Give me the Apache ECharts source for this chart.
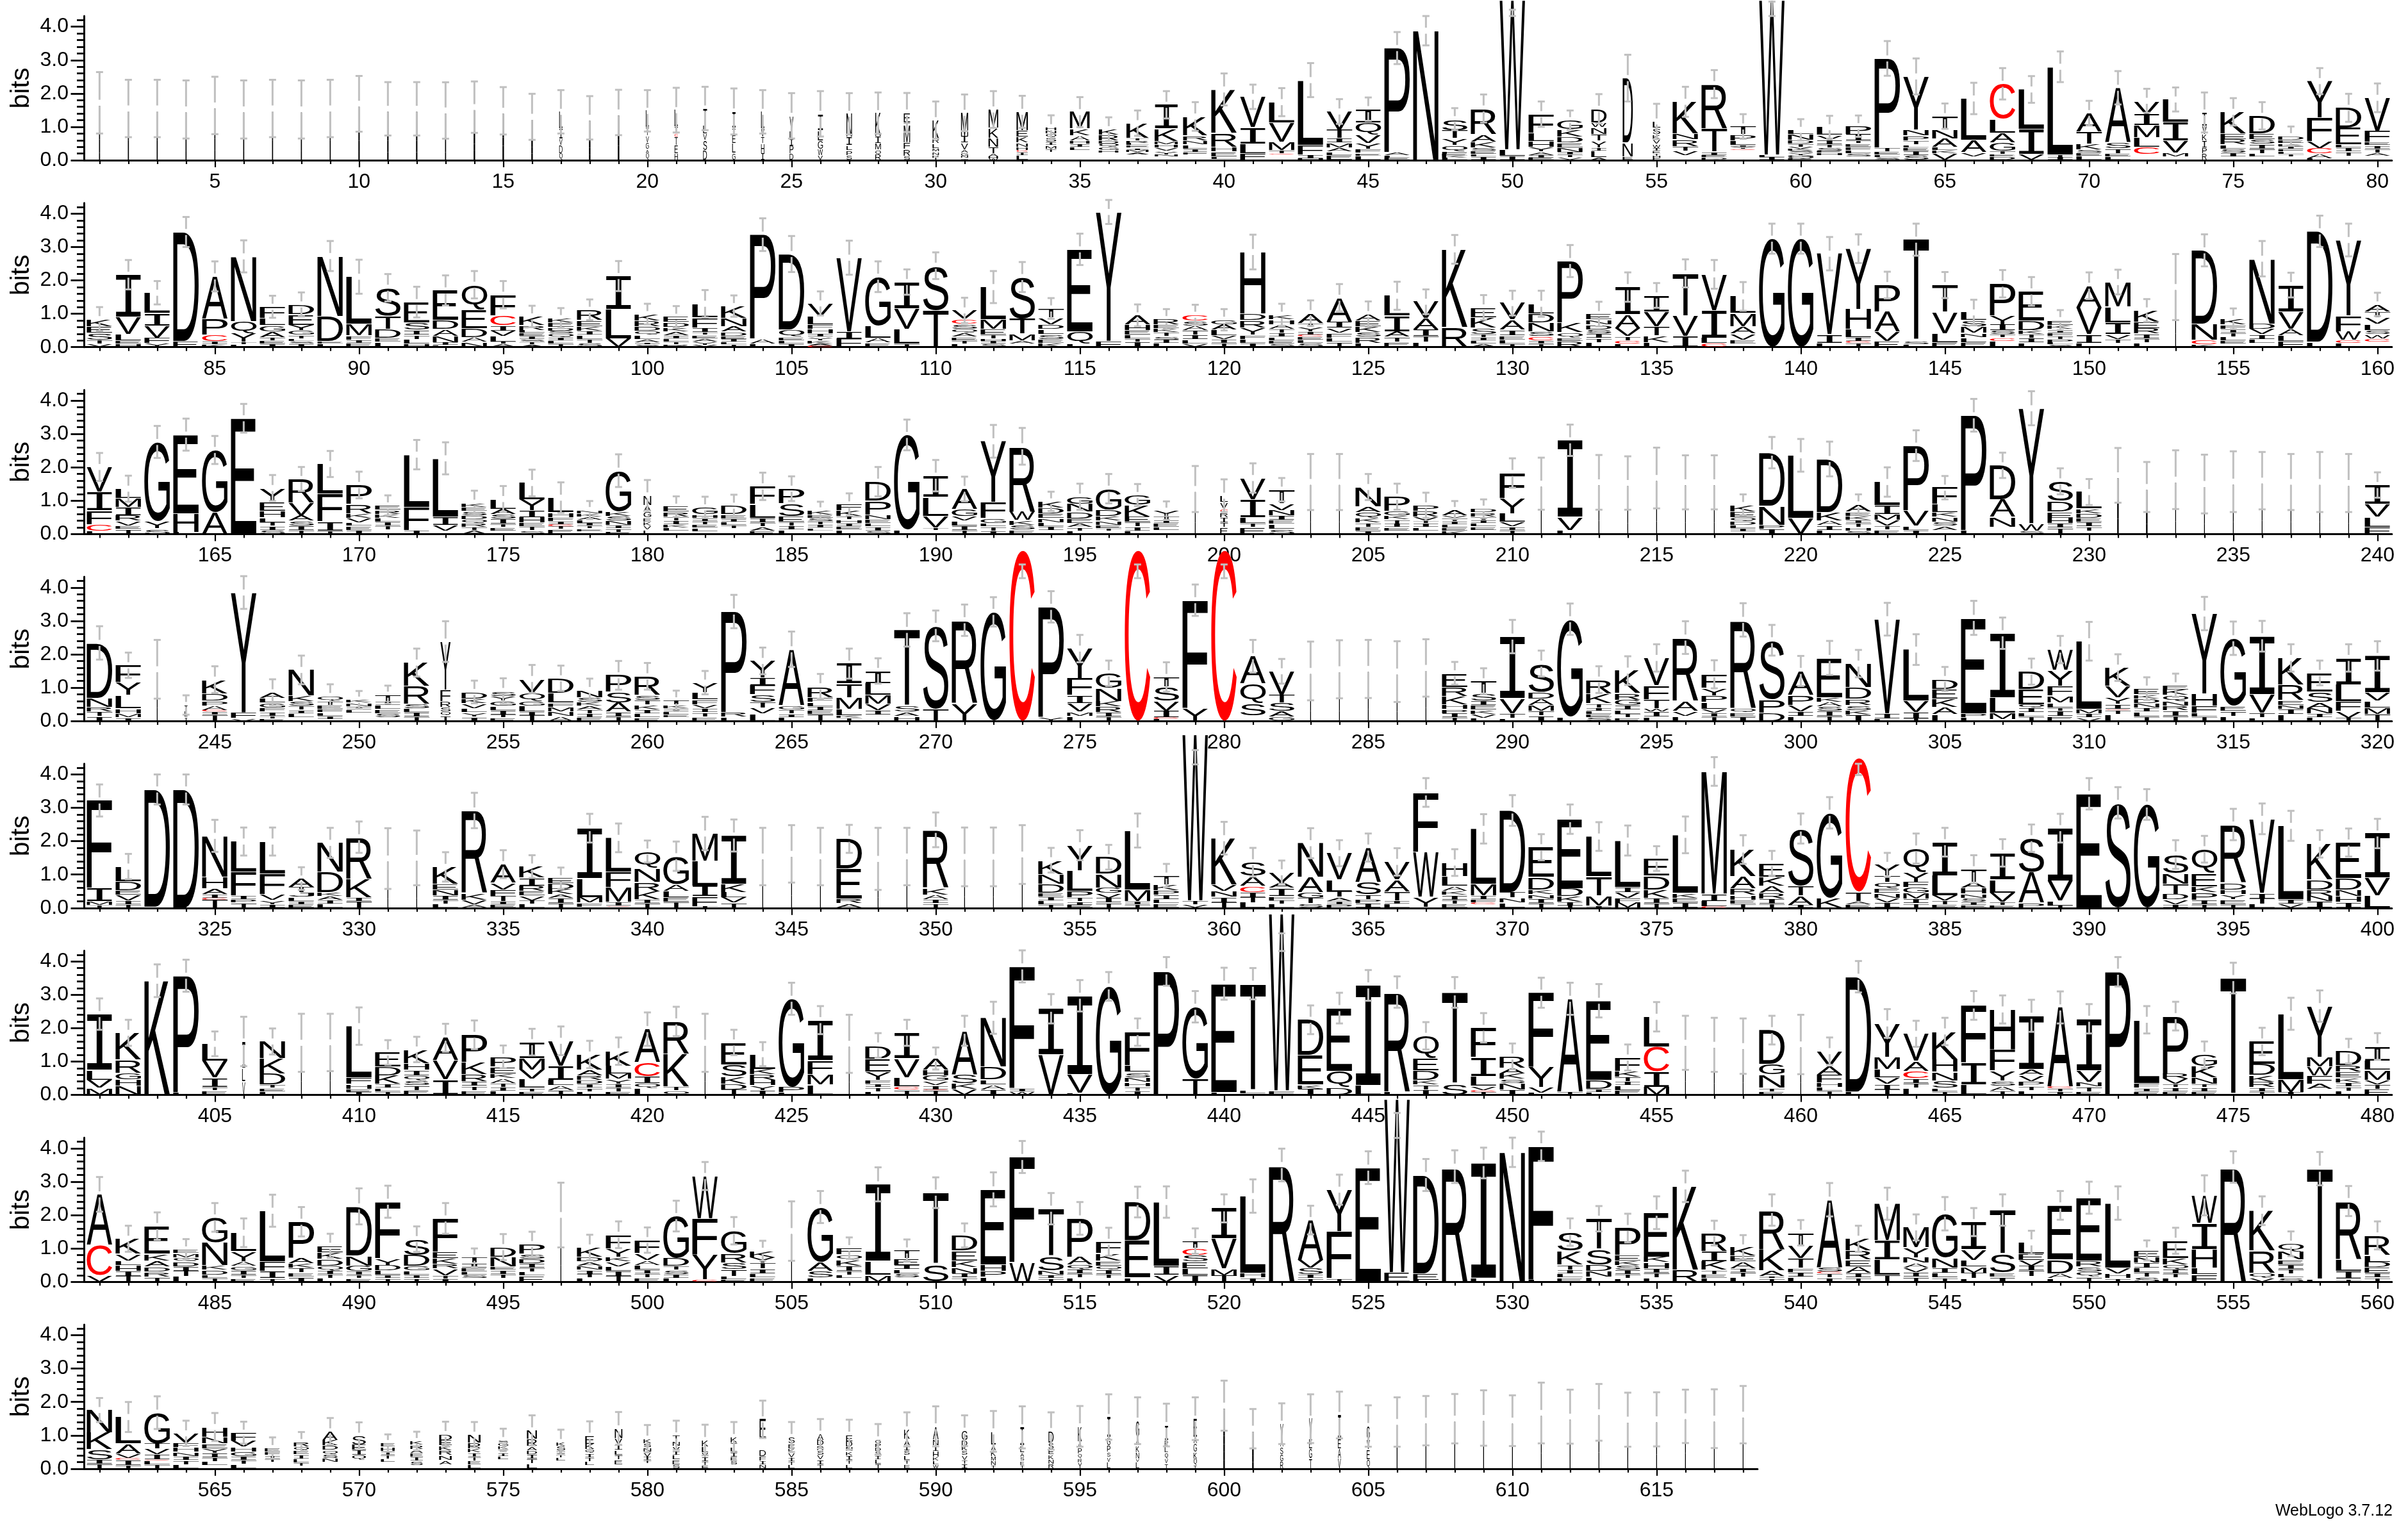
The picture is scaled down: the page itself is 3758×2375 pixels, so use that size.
<!DOCTYPE html>
<html><head><meta charset="utf-8">
<style>html,body{margin:0;padding:0;background:#fff}#c{width:3758px;height:2375px}</style>
<script src="https://cdn.jsdelivr.net/npm/echarts@6/dist/echarts.min.js"></script>
</head><body><div id="c"></div>
<script>
// Each string is one sequence position: letters from the top of the stack downwards with height in bits. "_" = empty space.
const row1Stacks = [
"L.6I.5V.4A.22","L.55V.4I.35A.25","I.55L.4V.35T.25","L.5I.4V.35S.27","L.6V.4I.35K.29","V.5L.4I.35E.27","L.55I.4A.35V.25","I.5V.4L.35T.27","L.55V.4T.35I.25","L.6I.5V.34A.25",
"V.55L.4I.35K.24","L.55I.4S.35V.24","I.5L.4V.35E.24","L.5I.4V.2D.2S.29","I.5L.3V.25A.2Q.23","V.4I.3K.2E.2L.2","L.5I.3V.2D.25Q.2","T.4V.3H.2S.2D.17","I.5L.3E.2K.2D.23","L.5T.25V.2G.2A.13Q.2",
"L.5I.2C.1T.25E.25H.2","T.5L.25V.2S.3D.3","I.5T.2E.25L.3G.21","L.5V.25T.2H.3I.2","V.45L.25I.2P.23D.2","I.5L.3G.25W.2V.14","N.7I.25L.15P.15S.14","K.7I.2M.2Q.15R.16","E.3T.1M.5F.2R.2S.13","K.55R.15L.15M.1N.1P.08T.07",
"M.7I.2V.2A.1G.1N.06Q.06","M.55K.3N.27T.2A.1H.06W.04","M.55E.2K.17N.13H.1C.05I.1L.15","H.1N.1Q.1S.15I.1M.1T.1_.24","M.5K.2A.15H.1I.1L.1_.29","K.18R.16D.1Q.1G.1H.07_.22","K.45T.08R.07L.07E.07I.07M.07A.07_.16","I.72K.37M.1H.1V.1Y.1N.05_.12","K.57R.15N.13L.12I.1F.08_.16","K1.3R.42H.15E.14L.08_.03",
"V.92I.5L.28F.2","L.62V.58M.25T.1C.02_.17","L1.95F.28I.12H.05","V.55T.26I.13M.15A.12L.1E.15","I.4Q.38V.25Y.17F.12E.08L.13","P3.12A.1L.08E.06","N3.88","S.34T.24Y.2Q.18F.08E.07K.06L.06","R.78A.22K.18S.09E.1L.08I.1","W4.48L.2I.12",
"F.57L.24H.18Y.14A.1I.08E.07","G.28K.22D.18E.14N.14I.08T.08V.08","D.42W.14N.2T.2Y.2I.1L.2A.08","D1.94N.42E.1","L.2S.18K.15V.14W.13I.08E.08T.08H.06F.06","K.95N.18R.2T.14V.14_.14","R1.34T.7I.1E.06D.08","T.24P.18L.14I.06Y.06C.03_.3","W4.64L.08I.08","L.14N.16D.12T.1V.06K.06S.06Y.06G.05Q.05E.05",
"L.24V.14I.14T.1S.1E.06H.06_.15","P.24I.2T.08E.1F.1L.1S.1_.1","P2.67T.12E.1L.08S.08","Y1.6N.17P.15T.13L.08E.1I.14S.14","T.4N.27A.26L.1K.09V.2","L1.25A.37V.13_.1","C1.05L.42A.3G.25T.1E.07D.1","L1.2I.74V.18","L2.64T.08I.08","A.55T.38K.16S.1E.1L.12",
"A1.65S.17T.15E.1L.1","V.4I.34M.36L.28C.22_.18","L.68I.55V.37M.12_.1","I.4V.25K.2I.2P.18R.2","K.65E.18R.16L.12S.12I.12_.1","D.53E.18S.14I.14T.14L.1_.1","D.12E.1K.08I.08F.08L.08T.08_.1","Y1.1F.7V.22C.16A.14L.05","D.6E.5L.1I.12T.12_.13","V1.0F.33E.1I.1T.12A.1_.12"];
const row1Err = [.92,.86,.86,.87,.86,.87,.86,.87,.86,.835,.8,.8,.845,.77,.71,.69,.65,.65,.68,.62,.67,.65,.69,.65,.68,.68,.62,.62,.585,.56,.55,.55,.48,.355,.45,.355,.38,.41,.43,.48,.365,.42,.51,.37,.35,.48,.44,.33,.42,.5,.38,.29,.44,.7,.53,.45,.42,.37,.5,.32,.34,.32,.52,.54,.38,.47,.47,.4,.46,.37,.5,.36,.36,.6,.41,.41,.29,.39,.42,.43];

const row2Stacks = [
"K.22E.2S.2T.12V.1","I1.26V.52L.2E.1H.09","L.62I.38V.36F.16Y.11","D3.28E.17","A1.27P.48C.2I.1K.07","N1.95Q.36Y.26T.08L.07","F.34L.22G.18A.18T.1E.1I.09","D.3E.32Y.16G.14T.1L.08S.08I.1","N1.8D.75E.08L.1","L1.42M.35F.12I.1E.12",
"S.85T.4D.26E.12L.15","E.62S.22I.14T.13L.14H.1","E.9D.27A.2N.2I.08L.05","Q.76E.55D.27A.14N.15","F.62C.3I.16V.16L.17T.06A.1","K.27R.14L.09E.09I.09S.08T.08A.08","K.14E.14D.1S.09Q.1I.1L.1T.1","R.32E.18K.14I.12L.12T.12S.12","I1.0L.87V.26","K.2R.17D.14Q.12L.12A.1I.07S.07",
"E.16D.15K.13A.12I.1L.09T.08R.08","L.42F.3I.14T.08E.1A.1Y.1V.06","K.37N.24A.16D.13E.1I.08L.07T.08","P3.12A.15L.1","D2.27Q.22E.1L.1I.1","V.38L.25F.14H.14I.1Y.1K.1A.06C.04","V2.22I.2F.26","G1.47L.37A.14E.13","I.8V.62L.43T.1","S1.34T1.1",
"V.26C.14S.16Q.12A.12E.1T.1L.1","L.98M.29E.16T.12H.08I.08S.09","S1.25T.46M.2A.1_.09","T.28V.2D.15L.15S.14E.12K.12","E2.46Q.37L.1","Y3.87F.18","A.28H.16E.14L.12T.1I.15","R.16E.12K.12T.11S.11I.11L.11","C.18S.15A.14T.14I.13L.13V.1","G.14A.16L.17V.12I.12T.11",
"H1.85D.2R.22Y.22F.12L.12I.12","K.15H.14A.14T.12I.12L.1E.1S.1","A.3T.12Y.14I.1C.04E.1L.1S.12","A.72I.18V.15F.15L.13T.15","A.2E.18K.16S.15R.18L.12","L.6I.47A.17T.15E.15","V.5A.34I.2T.17L.15","K2.33R.6","E.3K.32S.18T.1I.1L.09A.1","V.5A.3I.17E.13L.12T.1",
"L.3D.27N.27S.14C.12I.1T.1","P1.85K.29Q.16E.1R.18","E.17N.15D.15S.12I.13T.13L.14","I.82A.42V.23T.13C.1L.1","I.5V.43T.28K.2L.14","T1.28V.6I.33","V1.08I.82L.16C.12","L.5M.4A.22V.18E.12_.1","G3.25","G3.25",
"V2.42I.26L.12","Y1.82H.6L.24I.12C.06T.11","P.8A.6V.28E.18","T3.04S.1L.08","T.82V.63L.27E.14","L.24S.18M.2N.13L.15E.14","P.96Y.26I.18S.12T.1C.1L.18","E.88D.28K.12T.13I.13L.13","E.15K.13I.1F.1T.09P.1L.07S.07","A.66V.8I.26L.12",
"M.74L.47I.35V.15T.12_.12","K.34E.2R.16I.14T.13L.13","L.9I.5V.4","D2.2N.48C.14K.08","K.18F.13I.12T.11L.11E.1_.1","N1.95D.16V.16I.14L.12_.12","I.8V.52A.2L.17F.17","D3.32L.15","Y2.27F.47W.26C.1L.11","A.22T.17V.2L.18S.13W.13C.09_.16"];
const row2Err = [.36,.44,.35,.45,.45,.48,.33,.36,.45,.51,.41,.46,.45,.41,.41,.32,.3,.31,.45,.31,.32,.41,.32,.49,.54,.36,.51,.46,.38,.4,.38,.48,.45,.31,.47,.36,.33,.3,.3,.32,.52,.33,.38,.41,.38,.42,.37,.43,.37,.37,.39,.48,.37,.44,.37,.42,.43,.43,.45,.45,.5,.43,.4,.48,.39,.38,.41,.43,.3,.4,.37,.34,.99,.48,.31,.53,.37,.47,.49,.35];

const row3Stacks = [
"V.75I.55F.42C.2L.09","L.28M.27I.25R.17V.14E.1T.15","G2.38Y.22S.16","E2.36H.56L.06","G1.87A.65","E3.47","Y.42E.27H.2L.14T.11I.12S.12","R.72V.38A.16S.14I.13T.12","L.9F.82I.28T.1","P.58R.27K.14V.14L.1E.12I.12",
"E.14R.13K.11L.12I.12T.12_.12","L1.58F.68I.12","L1.75I.26V.16_.1","K.13E.13S.12D.12Q.12R.11T.1A.11","L.3A.16S.14I.15T.1E.1_.1","L.5Y.33I.2H.16E.12T.11S.11","L.45H.14F.12I.1C.04T.1E.14","N.1K.1A.1L.09I.09T.08E.08_.08","G1.22K.14S.14N.14I.1T.1E.06","N.3A.2G.16E.13K.12V.12L.13",
"E.16R.14T.12I.11K.1L.1_.09","G.22H.1I.1T.1E.1L.1_.08","D.26E.13I.1L.1T.1_.16","F.54L.41I.14T.12A.12E.1","P.45S.38E.16T.12I.12L.13","K.14E.1S.1T.09I.1L.08_.1","F.19K.17T.1H.1I.1E.1L.13","D.58P.41N.14E.12L.1I.12S.1","G2.85L.12","I.64L.57V.35T.07_.12",
"A.6G.22V.14L.14I.13T.12","Y1.83F.48G.14L.1T.13I.1","R1.96W.26K.14S.14E.13","K.2D.17E.14N.12L.12I.12_.11","G.22N.24D.2E.14A.12T.1L.1","G.64D.19K.14N.12E.1T.07_.1","G.3K.35E.16T.14I.12L.1","Y.16T.12I.1E.11L.1_.11","L.6I.4V.35","L.2V.2C.1R.15I.15T.15E.2",
"V.64I.54L.18T.12E.2","T.42V.2N.16I.13E.12L.15S.15","L.8I.4V.36","L.8V.4I.36","N.58A.18Q.17K.14T.13E.11I.1","P.43G.14K.12T.12I.11E.1_.1","P.18R.16V.12T.08I.12L.1_.1","A.16V.08T.1I.1L.09E.1K.09","D.12R.12T.1I.1L.1E.1_.12","F.75Y.46L.26V.14I.1T.12",
"L.7I.4V.41","I2.3V.4L.11","L.7V.45I.4","L.8I.4A.33","I.8L.5V.38","L.8V.4I.35","V.8L.4T.35","K.2E.17Q.12D.12L.1I.08_.08","D1.6N.57P.12I.15","L1.88V.48",
"D1.6K.25A.14I.14L.12","A.22E.13K.12I.1T.12H.1S.1","L.7I.27M.17V.17T.12E.13","P1.95V.46L.12I.12","F.5L.24K.14N.14S.13A.12_.12","P3.45L.11","D1.02A.53N.3_.21","Y3.45W.22S.1","S.6D.32E.18H.16I.14T.18","L.5K.14D.14E.12I.14T.12_.1",
"L.8I.5V.46","L.7V.4I.31","L.8I.45V.38","I.8V.4L.3","L.8V.4I.37","V.8I.4L.4","L.8A.4I.36","I.8L.4T.36","V.8I.4L.33","I.58V.38L.3F.21"];
const row3Err = [.42,.39,.48,.48,.42,.43,.39,.36,.39,.4,.3,.44,.48,.36,.39,.4,.46,.27,.49,.46,.31,.32,.33,.41,.37,.26,.33,.44,.46,.47,.37,.49,.55,.29,.39,.44,.33,.28,.69,.49,.44,.35,.84,.84,.39,.39,.38,.27,.28,.44,.78,.47,.82,.8,.91,.81,.81,.32,.47,.49,.52,.3,.44,.46,.35,.49,.38,.51,.39,.39,.82,.75,.88,.88,.91,.86,.84,.9,.87,.38];

const row4Stacks = [
"D1.65N.27R.14T.14I.14","F.5Y.4L.4H.14M.13I.1","L.7I.45V.4","T.2L.16I.12","K.42D.22P.14A.14C.04I.1T.18","Y3.6F.17V.08","A.17L.15G.14F.13I.12T.08E.07","N.78K.16S.14T.12I.1L.13_.1","Q.15T.13E.12F.1L.1I.1_.05","K.1N.1I.1L.1_.24",
"T.2I.12L.12E.12S.12_.11","K.7R.54S.14L.12I.13T.12","Y1.45F.35R.17S.14Q.1I.17","D.2K.15V.14L.13Y.13I.12","S.16Y.14G.15L.13I.13T.09E.1","V.42Q.25G.15L.16I.12T.16","D.45L.28F.13M.14N.14A.14","N.22S.14K.12A.12T.11I.11E.11","P.5S.32A.28I.14T.13","R.56S.16T.14K.14I.12L.12E.1",
"T.14K.1I.1L.1E.08_.1","Y.29L.22F.15V.12I.12T.13E.12","P3.02R.14L.12","Y.5I.23F.28S.22T.17V.18L.22","A1.68G.13T.13I.1L.11","R.33F.14L.13I.12E.12T.2","I.6T.42M.34L.2K.08T.08","I.37L.36M.26V.2I.13_.18","T2.28S.18A.13H.14","S2.5T.35",
"R2.5Y.52","G3.27","C5.12","P3.3Y.12","Y.9F.5I.24V.25M.13L.15","G.44N.4K.16R.17I.13T.13","C5.12","T.3S.42V.3I.2C.04L.06","F3.22Y.4","C5.12",
"A.82Q.6S.36_.16","V.71T.24S.24A.18G.12","L.8V.4I.3","I.8L.45V.3","L.8I.4A.36","V.8L.4I.28","L.8T.4V.39","E.42R.28K.24H.14P.12I.13T.1","T.36S.22I.14E.14K.12V.12L.09","I1.85V.45T.15L.08",
"S.85D.2A.2M.17T.14I.16","G2.92L.13","R.42K.3T.12I.1L.1E.1S.1","K.68R.2G.16I.14L.12T.11E.1","V.82F.42T.28W.1I.15L.12","R1.9A.3V.15L.15","F.42Y.22P.2L.2V.12I.12T.12","R2.65Q.12E.13I.13","S1.78P.4D.24","A.72P.3V.2I.14L.14",
"E1.18K.14A.14S.14I.15T.14","N.72D.34R.18S.16K.14I.18","V2.82I.16L.07","L1.54V.35I.18T.07","D.3E.3K.24A.22L.2","E2.86P.12L.11","I1.92L.47M.2_.04","D.53E.46Q.1I.13L.13T.13","W.62Y.47F.3M.2L.15T.1I.15E.15","L2.03M.14I.12V.1",
"K.56V.34Y.2I.14C.03T.13L.2","E.17K.13D.14N.14I.12L.14T.13","E.14K.16Q.17N.15R.14I.16T.15","Y2.4H.36F.22L.12T.12","G2.03E.15T.15L.15","I1.75V.55T.14L.1","K.8R.47E.14N.13I.15L.2","E.57S.31A.18N.16I.11L.11","I.8L.5F.3V.2T.09","I1.1V.25L.2M.2T.2"];
const row4Err = [.5,.38,.88,.29,.4,.49,.39,.43,.35,.26,.27,.42,.61,.34,.38,.42,.38,.34,.43,.4,.29,.35,.5,.4,.53,.37,.45,.38,.5,.46,.47,.44,.42,.47,.41,.38,.42,.44,.47,.42,.49,.37,.88,.87,.87,.91,.86,.34,.39,.5,.39,.47,.4,.43,.41,.49,.42,.5,.46,.45,.51,.41,.49,.46,.36,.51,.47,.39,.41,.58,.4,.34,.35,.5,.5,.46,.41,.37,.41,.44];

const row5Stacks = [
"F2.62I.4M.12T.08","L.44D.27E.15V.16I.12T.1","D3.52T.03","D3.55","N1.23H.35A.17I.12C.04T.25","L.92F.7I.12P.1T.15","L.96F.62V.18Y.13I.1","A.26T.16J.14L.12I.1E.1","N.88D.6K.12A.12I.12L.11","R1.25K.55I.12T.2",
"L.8V.4I.28","I.8L.4V.3","K.52E.16N.18I.13T.12L.12","R2.48K.2V.14A.1","A.56V.2F.2T.16I.09E.1","K.34I.24R.16E.14V.14T.11L.11","E.16D.16K.16A.12I.15T.14","I1.5L.57M.17F.12T.03","L1.02F.47M.43I.12C.03T.03","Q.5N.42R.28K.23I.12T.14",
"G.84A.2L.2E.14T.17","M.82L.75I.32F.3T.04","I1.45K.25L.16V.16T.15","L.8V.4I.34","I.8L.45V.37","V.8L.4I.34","D.9E.9R.14A.13","L.7I.45V.32","I.8V.4L.34","R1.75K.2A.14I.12T.13",
"L.8V.4I.33","I.8L.4V.33","V.8L.4I.4","K.42N.3D.26E.12I.12L.11T.1","Y.77L.6P.2T.12I.1E.09","D.5N.42G.16V.14I.15T.15","L1.78M.34I.1T.1","T.28K.16P.14I.13L.13E.13","W4.98T.12V.1","K1.39V.2N.17I.17T.16",
"S.42A.3C.18I.15T.16L.16","V.31A.17I.24F.13T.11L.11","N1.02A.46G.17T.16S.13","V.8L.35T.17A.12I.1P.1","A1.03S.38T.14P.13I.13","V.54A.35T.28I.1L.11","F1.78W1.35Y.3I.03","H.42L.28A.15K.13I.14T.12E.12","L1.66M.34I.12F.1C.04_.11","D2.45T.17N.15L.15",
"E.9D.37K.15N.12I.14T.14","E2.08D.24K.16I.12T.06","L1.2T.57M.3I.07","L1.4I.15V.17F.14M.16","E.52D.42K.25I.15T.14","L1.75K.14E.15I.15","M3.67I.22L.16C.04","K.8A.37R.2H.14E.12T.12","E.42K.26A.22R.17I.15T.12","S1.72T.3A.27I.09",
"G2.56K.29","C4.02T.28A.1E.1","Y.33T.2Q.17E.15N.15V.14I.15","Q.72Y.28F.17G.17M.17I.14T.13","I1.0L.6V.16T.11E.1","T.4A.16H.17N.13S.12I.1E.08","I.8L.4V.28T.1E.07","S1.02A.92P.15","I1.58V.6L.14T.07","E3.42",
"S3.15","G3.1","S.56N.32T.31D.16V.15I.1","Q.72E.4K.18P.22I.14T.1","R1.75D.2H.15Y.15E.15T.1","V2.22I.17T.17L.11","L2.2I.14V.12","K1.07D.3R.2N.16I.19","E1.07D.35N.2H.17I.17","I1.33V.54L.36"];
const row5Err = [.48,.38,.45,.45,.48,.42,.42,.34,.45,.47,.91,.82,.44,.53,.42,.34,.32,.43,.43,.33,.44,.5,.48,.86,.86,.86,.42,.93,.86,.52,.88,.88,.88,.37,.45,.37,.51,.35,.9,.49,.43,.35,.45,.39,.42,.41,.43,.4,.44,.46,.39,.44,.43,.45,.37,.55,.43,.43,.37,.45,.47,.5,.36,.45,.43,.42,.41,.41,.43,.47,.47,.46,.43,.4,.47,.46,.45,.41,.42,.44];

const row6Stacks = [
"I1.68L.3V.24M.2","K.8R.4G.2H.2N.26","K3.42","P3.5L.07","L.52V.5I.28T.1E.13","I.8L.4V.4","N.5K.47D.33T.1E.1L.1","I.7L.45V.41","L.7V.45I.42","L1.54F.2H.14E.1I.08",
"E.43D.26K.26I.12L.1T.1","K.42H.2I.17Q.14S.14T.15E.14","A.68V.58I.45","P.82K.36R.22I.14T.13E.13","P.3E.2K.15A.14T.13I.11L.11","I.48M.35V.28L.27T.1E.1","V.75I.43L.16A.14T.14","K.47A.16R.14D.12I.12T.1L.1","K.45L.23M.16Y.14I.12T.11E.1","A1.0C.43I.2Q.14L.2",
"R.98K.97T.12Q.13","I.7L.45V.41","E.66S.36K.22D.17T.16","L.45K.16R.17H.16Y.14I.14","G2.65P.16L.07","I1.2F.42M.32L.3","L.7I.45V.38","D.4E.4Y.24F.12I.1T.12L.1","I.77V.57L.27C.1T.15","A.34H.18G.16V.13I.12C.02T.14",
"A1.3S.28K.16V.18","N1.46D.4L.15A.14I.16","F3.65I.1W.1","I1.38V1.2","I2.35V.57L.05","G3.25","F1.0L.2S.16N.14H.13T.13I.12","P3.7","G2.15T.49","E3.25L.08",
"T3.2L.1I.03","W5.3F.13","D1.07E.88K.12I.18","E1.9Q.48D.22","I3.0L.28","R2.98L.1","Q.68E.37D.28K.14T.15I.15","T2.75S.32","F.88I.57L.3V.12C.05T.09","R.34A.17K.16S.13N.2I.15",
"F2.24Y.6V.16L.06","A2.78T.1","E2.38D.26I.1L.08","F.42K.16T.14I.12L.14E.14","L.9C.75I.46M.23","L.7I.45V.41","V.7L.45I.35","L.7A.4I.36","D1.02G.32N.4T.1E.1","L.7I.45V.36",
"V.45A.26F.23H.14L.12T.11","D3.45L.09","Y1.0M.37L.25V.2I.16T.16","V.82A.3C.22I.14T.15L.2","K.84H.38N.25S.23L.1T.1","F1.72I.65L.31","H1.2F.64Y.3S.16A.14T.12","I1.6A.18V.18P.15T.13L.13","A2.38C.04T.1I.1","I1.55V.35N.14T.14E.1",
"P3.69","L1.9F.15I.1E.1","P1.72R.16V.16T.1I.12E.1","G.34K.34N.2T.1I.12E.1","T3.5","E.68D.33K.2R.17I.12T.1","L1.97M.38I.08","Y1.52M.3W.26F.25A.16_.17","D.43R.2E.17K.14I.12T.13L.12","I.43L.28M.3V.14T.14E.16"];
const row6Err = [.47,.39,.49,.48,.37,.74,.39,.87,.86,.56,.37,.38,.42,.43,.34,.4,.43,.41,.41,.5,.44,.87,.38,.36,.48,.42,.87,.37,.39,.33,.45,.48,.48,.44,.47,.43,.41,.43,.47,.48,.47,.5,.43,.46,.46,.47,.41,.46,.44,.39,.45,.48,.5,.39,.44,.81,.81,.83,.43,.89,.41,.47,.43,.39,.41,.43,.42,.48,.48,.44,.44,.41,.43,.4,.46,.41,.48,.47,.37,.4];

const row7Stacks = [
"A1.52C.9V.2","K.46V.2L.14H.17I.16T.16","E.84K.2A.18D.15R.15T.15","E.12M.12Q.13D.14I.14T.16L.16","G.76N.68K.14D.14L.1T.11","L.56Y.3A.14G.13I.14T.1E.1","L1.52F.29I.22T.1","P1.08A.17K.14T.14E.13I.14","E.2K.2D.2Q.14I.12T.11L.11","D1.48N.3G.16I.12T.1E.1",
"F1.7Y.2D.16L.14I.1T.1","S.48D.33G.14L.13I.1T.1","F1.0E.2K.17R.14V.2T.1I.09","T.16I.14E.12L.1S.1_.1","D.29N.3E.1I.12T.13_.1","P.3S.14D.14I.13T.12L.12E.18","L.9I.6V.5","K.28D.14A.13N.13I.12T.11L.12","F.42Y.25K.14V.14L.14I.16T.16","F.4V.2A.15L.14I.12T.12E.12",
"G1.26D.24T.12S.12I.12L.11","W1.28F1.08Y.75C.06","G.68R.28S.2T.2L.1E.07","K.2Y.17T.17I.14L.13E.12","L.7I.45V.37","G1.65A.27S.2L.12","F.2Q.16K.18I.15T.12L.1_.1","I2.3L.42M.2","T.24E.2I.13L.13S.12_.12","T2.15S.52",
"D.46E.3K.2N.18I.13T.12","E2.26H.2P.17L.14","F3.15W.59","T1.43S.42N.14I.1T.1","P1.15A.23Q.14I.14T.12L.12","F.35K.22E.15Q.13I.13T.12_.1","D1.15E1.12L.12","L1.92I.27V.2","T.22C.2S.2E.2L.2I.2","I.91V.9M.2T.19",
"L2.3H.15I.12","R3.5","A1.2V.23S.2I.12T.1","Y1.26F1.4T.1","E3.42","W5.2E.28","D2.95E.2L.05","R3.45","I3.45L.11","N3.88",
"F4.0L.06","S.56K.42T.15I.12L.12E.12","T.92S.46D.2N.16L.15","P.82E.16K.14S.14I.13T.12L.1","E1.32K.17H.18I.14T.14L.12","K2.5R.36","R.54I.31K.26T.12E.12L.11","K.26E.17A.2I.12T.14L.14","R1.18K.64A.16I.07T.1","T.38V.38T.3F.13I.14L.14",
"A2.02S.14C.06T.12I.12","K.36R.27E.2A.2I.13T.13","M1.1I.58L.46T.2","M.6Y.3N.17A.14V.14I.14T.14","G1.32N.3I.16L.14T.12","I.82V.32L.2M.18T.17L.1","T1.32S.56E.13I.14","L.34E.2V.16I.15T.16_.17","E1.62D.42A.15L.1","E1.9R.17S.15Q.15T.15",
"L1.95V.17H.14T.1","E.2N.17I.15L.14T.14S.14","E.52K.2Q.14I.13T.12L.12","W.83I.78H.56L.2F.22","R3.44","K1.19R.67Q.14V.13","Q.24N.24E.14I.14T.14L.12S.12","T3.35L.04","R1.75L.35I.24T.08","R.6L.2D.16E.16I.14T.13"];
const row7Err = [.52,.39,.41,.31,.43,.43,.48,.44,.36,.54,.48,.38,.46,.28,.39,.37,.97,.38,.4,.38,.46,.42,.41,.3,.89,.48,.32,.51,.33,.46,.36,.51,.48,.47,.49,.42,.46,.47,.38,.42,.5,.49,.43,.45,.49,.5,.48,.49,.46,.44,.44,.41,.38,.43,.49,.47,.37,.37,.47,.38,.5,.39,.48,.39,.5,.42,.47,.35,.43,.48,.5,.3,.39,.6,.47,.43,.37,.5,.45,.42];

const row8Stacks = [
"N.68K.5S.3I.14T.14","L.8A.3V.14C.04I.17T.1","G.93T.16V.16I.16C.03L.12T.12","V.28F.14H.14N.13I.12T.13L.12","H.3N.2E.14Y.14I.14T.11L.12_.1","F.24V.19H.14G.14I.12T.12L.13","E.12F.1I.1T.1_.2","R.14Q.12E.12I.12L.12T.1_.08","A.26K.16D.14Q.13S.12N.12_.19","S.27E.16I.15Q.15_.26",
"E.12H.12I.12T.12L.1_.19","K.12R.12A.12E.12I.12S.12_.11","D.18E.16K.15R.15N.14A.13_.13","N.24R.17K.13I.12T.12E.12L.12","S.08G.1K.1T.1I.1L.1_.28","N.26R.22A.12D.12I.14T.14L.15","K.12S.14I.1T.1L.1_.24","E.25K.16Q.12I.12T.12L.12_.1","N.3V.2I.15L.15T.14E.14_.13","K.14S.13N.13V.14I.11T.1_.15",
"T.18N.15V.14I.12L.14E.14S.13","K.2L.17V.14I.13T.12E.1","K.17T.14L.14I.14E.12S.12_.12","E.6_.3D.2F.14I.12N.12","S.2E.14K.14V.14I.11T.11L.11","A.2D.16R.14S.14V.14I.14T.13","E.2D.16N.14K.13I.13T.13L.13","G.12P.12D.12S.12I.12L.14T.14","K.3A.18I.16S.14L.14T.13E.13","A.4N.18I.17H.16K.12L.12W.12",
"G.3D.16K.14S.14V.14T.13I.13","L.4A.18K.16M.14N.14T.1","I.55L.2A.13S.13E.13T.1","D.35S.2E.16K.14N.14R.14","K.45A.2P.18Q.14R.13Y.17","I.6G.25P.2S.15V.15L.2","G.5A.25K.2N.2V.1L.19","I.45R.2L.18Q.18V.15T.15","E.55A.2G.25K.2Q.2T.1","I.9K.25L.24G.25Y.25",
"K.4L.2Q.2R.2S.2","V.45A.25S.22G.22R.21","V.6E.3G.3T.3","I.7E.3A.3V.31","G.4V.3E.3Q.28","L.6V.4I.4","V.6L.44I.4","L.6I.5V.4","V.6L.5I.42","I.6L.44V.4",
"L.7I.5V.47","L.6V.5I.46","I.7L.5V.49","L.6I.45V.42","V.6I.45L.43","L.6V.5I.47","I.6L.5V.4","L.7I.5V.42"];
const row8Err = [.36,.45,.49,.38,.42,.33,.32,.3,.4,.4,.26,.28,.37,.38,.34,.45,.37,.43,.49,.41,.44,.46,.45,.56,.45,.44,.45,.46,.51,.6,.46,.61,.63,.56,.61,.68,.7,.64,.64,.75,.59,.61,.73,.7,.62,.74,.74,.74,.83,.76,.91,.81,.85,.81,.81,.8,.88,.86];

// Relative stack width (occupancy) as [first position, last position, fraction]; all other positions are 1.
const occupancyRuns = [[1,9,.07],[10,12,.09],[13,13,.07],[14,16,.1],[17,17,.13],[18,19,.1],[20,20,.12],[21,21,.13],[22,22,.15],[23,24,.13],[25,25,.15],[26,26,.2],[27,28,.22],[29,30,.25],[31,31,.28],[32,32,.38],[33,33,.45],[34,34,.42],[35,36,.78],[37,37,.88],[38,38,.92],[39,39,.95],[53,53,.6],[54,54,.4],[55,55,.3],[74,74,.18],
[153,153,.05],[180,180,.3],[199,199,.05],[200,200,.3],[203,204,.05],[211,211,.05],[213,217,.05],[231,232,.1],[233,239,.04],[243,243,.05],[244,244,.12],[253,253,.4],[283,287,.04],[331,332,.05],[344,346,.04],[348,349,.04],[351,353,.04],
[406,406,.12],[408,409,.05],[422,422,.05],[427,427,.05],[456,458,.05],[460,460,.05],[497,497,.05],[505,505,.05],
[567,569,.6],[570,571,.55],[572,574,.5],[575,576,.4],[577,578,.35],[579,580,.3],[581,581,.28],[582,587,.25],[588,591,.22],[592,592,.18],[593,593,.15],[594,594,.2],[595,595,.15],[596,599,.13],[600,601,.1],[602,605,.12],[606,618,.05]];

// Error bars whose cap pair was read directly: position -> [low, high] in bits.
const errorOverrides = {50:[4.32,4.51],59:[4.32,4.75],273:[4.28,4.69],277:[4.28,4.69],280:[4.28,4.69],359:[4.3,4.73],382:[3.98,4.32],442:[4.31,4.84],526:[4.31,5.06]};

const yMajorTicks = [0,1,2,3,4];
const yMinorTicks = [.2,.4,.6,.8,1.2,1.4,1.6,1.8,2.2,2.4,2.6,2.8,3.2,3.4,3.6,3.8,4.2];
const rowStart = [1,81,161,241,321,401,481,561];
const rowStacks = [row1Stacks,row2Stacks,row3Stacks,row4Stacks,row5Stacks,row6Stacks,row7Stacks,row8Stacks];
const rowErrs = [row1Err,row2Err,row3Err,row4Err,row5Err,row6Err,row7Err,row8Err];

const occ = {};
occupancyRuns.forEach(function(r){ for (let p=r[0]; p<=r[1]; p++) occ[p]=r[2]; });

// glyph ink metrics so each letter fills its box exactly
const mctx = document.createElement('canvas').getContext('2d');
const metricCache = {};
function fontFor(ch){ return ch==='I' ? '100px "Liberation Mono"' : '100px "Liberation Sans"'; }
function metrics(ch){
  if (metricCache[ch]) return metricCache[ch];
  mctx.font = fontFor(ch); mctx.textAlign='center'; mctx.textBaseline='middle';
  const m = mctx.measureText(ch);
  return metricCache[ch] = {l:m.actualBoundingBoxLeft,r:m.actualBoundingBoxRight,a:m.actualBoundingBoxAscent,d:m.actualBoundingBoxDescent};
}

const GRID_LEFT=131.5, UNIT=45, BASE0=250, ROW_STEP=291.7, PLOT_H=225, Y_MAX=4.32, LETTER_FRAC=40/45, THIN_OCC=.1;
const grid=[],xAxis=[],yAxis=[],series=[];
rowStacks.forEach(function(stacks,ri){
  const first=rowStart[ri], last=first+stacks.length-1;
  const xMin=first-.53, xMax=last+.5, base=BASE0+ROW_STEP*ri;
  grid.push({left:GRID_LEFT,top:base-PLOT_H,width:(xMax-xMin)*UNIT,height:PLOT_H,containLabel:false});
  const all=[],major=[];
  for(let p=first;p<=last;p++){ if(p%5===0) major.push(p); else all.push(p); }
  xAxis.push({type:'value',gridIndex:ri,min:xMin,max:xMax,position:'bottom',
    axisLine:{show:true,onZero:false,lineStyle:{color:'#000',width:3}},
    axisTick:{show:true,customValues:major,length:11,lineStyle:{color:'#000',width:2.2}},
    axisLabel:{show:true,customValues:major,margin:18,fontFamily:'Liberation Sans',fontSize:32,color:'#000',formatter:function(v){return String(v);}},
    splitLine:{show:false}});
  xAxis.push({type:'value',gridIndex:ri,min:xMin,max:xMax,position:'bottom',
    axisLine:{show:false},
    axisTick:{show:true,customValues:all,length:6,lineStyle:{color:'#000',width:2.2}},
    axisLabel:{show:false},splitLine:{show:false}});
  yAxis.push({type:'value',gridIndex:ri,min:0,max:Y_MAX,position:'left',
    name:'bits',nameLocation:'middle',nameGap:77,nameMoveOverlap:false,nameRotate:90,nameTextStyle:{fontFamily:'Liberation Sans',fontSize:41,color:'#000'},
    axisLine:{show:true,onZero:false,lineStyle:{color:'#000',width:3}},
    axisTick:{show:true,customValues:yMajorTicks,length:21,lineStyle:{color:'#000',width:2.8}},
    axisLabel:{show:true,customValues:yMajorTicks,margin:24.5,fontFamily:'Liberation Sans',fontSize:32,color:'#000',formatter:function(v){return v.toFixed(1);}},
    splitLine:{show:false}});
  yAxis.push({type:'value',gridIndex:ri,min:0,max:Y_MAX,position:'left',
    axisLine:{show:false},
    axisTick:{show:true,customValues:yMinorTicks,length:11.5,lineStyle:{color:'#000',width:2.8}},
    axisLabel:{show:false},splitLine:{show:false}});

  const letters=[],bars=[];
  stacks.forEach(function(s,i){
    const pos=first+i, parts=[]; let m; const re=/([A-Z_])([\d.]+)/g;
    while((m=re.exec(s))) parts.push([m[1],parseFloat(m[2])]);
    let y=0; const start=letters.length;
    for(let k=parts.length-1;k>=0;k--){
      const top=y+parts[k][1];
      if(parts[k][0]!=='_') letters.push({ch:parts[k][0],pos:pos,y0:y,y1:top,w:occ[pos]||1});
      y=top;
    }
    for(let k=start;k<letters.length;k++) letters[k].stackTop=y;
    const ov=errorOverrides[pos];
    if(ov) bars.push({pos:pos,lo:ov[0],hi:ov[1],mid:null});
    else { const e=rowErrs[ri][i]; bars.push({pos:pos,lo:y-e,hi:y+e,mid:y}); }
  });

  series.push({type:'custom',coordinateSystem:'cartesian2d',xAxisIndex:ri*2,yAxisIndex:ri*2,silent:true,animation:false,z:3,
    data:letters.map(function(d){return [d.pos,d.y0,d.y1];}),encode:{x:0,y:1},
    renderItem:function(params,api){
      const d=letters[params.dataIndex];
      const a=api.coord([d.pos,d.y0]), b=api.coord([d.pos,d.y1]);
      if(d.w<=THIN_OCC){
        // stacks only a few pixels wide read as a solid sliver, not as glyphs
        const limit=api.coord([d.pos,d.stackTop])[1]+4.7, top=Math.max(b[1],limit);
        if(a[1]-top<=0) return null;
        const tw=Math.max(api.size([1,0])[0]*LETTER_FRAC*d.w*.6,1.3);
        return {type:'rect',silent:true,shape:{x:a[0]-tw/2,y:top,width:tw,height:a[1]-top},style:{fill:'#000'}};
      }
      let yT=b[1], yB=a[1]; if(yB-yT>3){yT+=.6;yB-=.6;}
      const w=api.size([1,0])[0]*LETTER_FRAC*d.w, h=Math.max(yB-yT,.4);
      const mt=metrics(d.ch), sx=w/(mt.l+mt.r), sy=h/(mt.a+mt.d);
      return {type:'text',x:a[0]-w/2+mt.l*sx,y:yT+mt.a*sy,scaleX:sx,scaleY:sy,silent:true,
        style:{text:d.ch,x:0,y:0,font:fontFor(d.ch),fill:d.ch==='C'?'#ff0000':'#000000',align:'center',verticalAlign:'middle'}};
    }});
  series.push({type:'custom',coordinateSystem:'cartesian2d',xAxisIndex:ri*2,yAxisIndex:ri*2,silent:true,animation:false,z:4,
    data:bars.map(function(d){return [d.pos,d.lo,d.hi];}),encode:{x:0,y:1},
    renderItem:function(params,api){
      const d=bars[params.dataIndex], fill='#c0c0c0';
      const lo=api.coord([d.pos,d.lo]), hi=api.coord([d.pos,d.hi]), x=lo[0], kids=[];
      const seg=function(y0,y1){ kids.push({type:'rect',shape:{x:x-1.5,y:y0,width:3,height:y1-y0},style:{fill:fill}}); };
      if(d.mid===null) seg(hi[1],lo[1]);
      else { const c=api.coord([d.pos,d.mid])[1]; seg(hi[1],c-4.7); seg(c+4.7,lo[1]); }
      kids.push({type:'rect',shape:{x:x-5.5,y:hi[1]-1.5,width:11,height:3},style:{fill:fill}});
      kids.push({type:'rect',shape:{x:x-5.5,y:lo[1]-1.5,width:11,height:3},style:{fill:fill}});
      return {type:'group',silent:true,children:kids};
    }});
});

const chart=echarts.init(document.getElementById('c'),null,{renderer:'canvas',width:3758,height:2375});
chart.setOption({animation:false,backgroundColor:'#ffffff',grid:grid,xAxis:xAxis,yAxis:yAxis,series:series,
  graphic:[{type:'text',right:24,top:2346,silent:true,style:{text:'WebLogo 3.7.12',font:'25px "Liberation Sans"',fill:'#000'}}]});
</script></body></html>
